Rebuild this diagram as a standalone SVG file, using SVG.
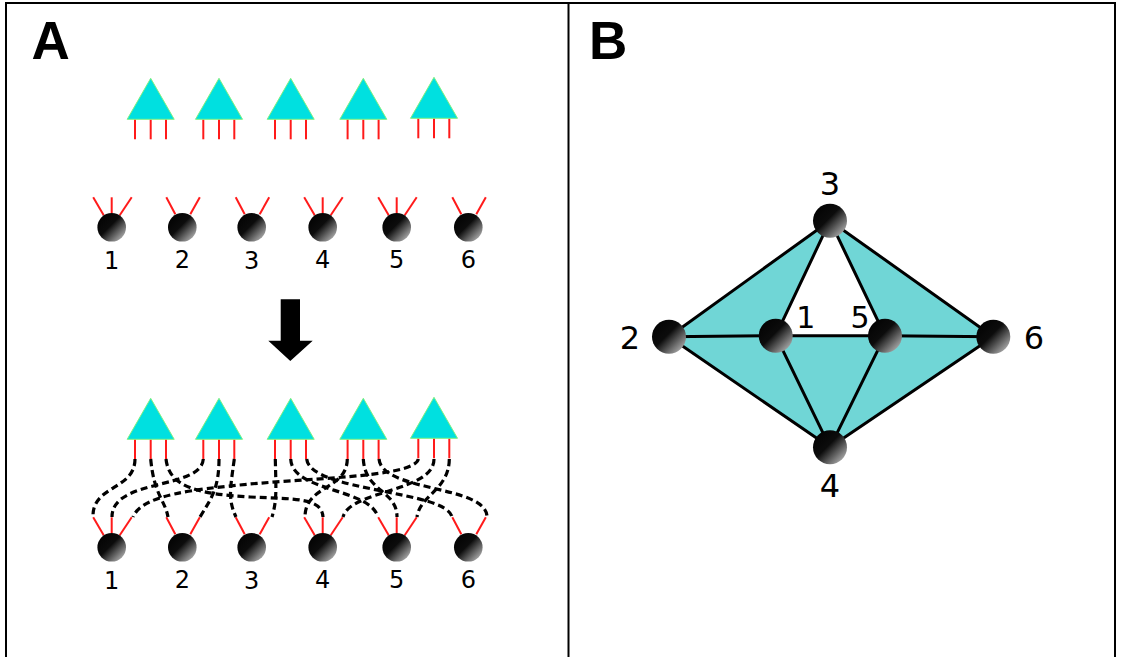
<svg xmlns="http://www.w3.org/2000/svg" xmlns:xlink="http://www.w3.org/1999/xlink" width="1121" height="657" viewBox="0 0 1121 657">
  <style>
    .frame { fill: none; stroke: #000; stroke-width: 2; }
    .letter { font-family: "Liberation Sans", Arial, sans-serif; font-weight: bold; font-size: 53px; fill: #000; }
    .lbl { font-family: "DejaVu Sans", sans-serif; font-size: 24px; fill: #000; text-anchor: middle; }
    .lblB { font-family: "DejaVu Sans", sans-serif; font-size: 32px; fill: #000; text-anchor: middle; }
    .lblS { font-family: "DejaVu Sans", sans-serif; font-size: 30px; fill: #000; text-anchor: middle; }
    .leg { stroke: #ff1a1a; stroke-width: 2; fill: none; }
    .tri { fill: #00e0e0; stroke: #80f080; stroke-width: 1; }
    .dash { fill: none; stroke: #000; stroke-width: 3.2; stroke-dasharray: 7 4; }
    .edge { stroke: #000; stroke-width: 3; fill: none; stroke-linecap: round; }
  </style>
  <defs>
    <linearGradient id="ball" x1="0" y1="0" x2="1" y2="1">
      <stop offset="0" stop-color="#000"/>
      <stop offset="0.45" stop-color="#0c0c0c"/>
      <stop offset="1" stop-color="#d4d4d4"/>
    </linearGradient>
    <!-- triangle with three legs, origin at apex -->
    <g id="tri">
      <line class="leg" x1="-15.7" y1="41" x2="-15.7" y2="61"/>
      <line class="leg" x1="0" y1="41" x2="0" y2="61"/>
      <line class="leg" x1="15.3" y1="41" x2="15.3" y2="61"/>
      <polygon class="tri" points="-23.5,41 0,0 23.5,41"/>
    </g>
    <!-- ball with three legs, origin at centre -->
    <g id="ball3">
      <line class="leg" x1="-18.5" y1="-30" x2="-8" y2="-12"/>
      <line class="leg" x1="0" y1="-30" x2="0" y2="-14"/>
      <line class="leg" x1="20" y1="-30" x2="8" y2="-12"/>
      <circle r="14.3" fill="url(#ball)"/>
    </g>
    <!-- ball with two legs -->
    <g id="ball2">
      <line class="leg" x1="-16" y1="-30" x2="-7" y2="-13"/>
      <line class="leg" x1="17.5" y1="-30" x2="8" y2="-13"/>
      <circle r="14.3" fill="url(#ball)"/>
    </g>
  </defs>

  <!-- frames -->
  <rect class="frame" x="6" y="3" width="1109" height="700"/>
  <line class="frame" x1="568.5" y1="3" x2="568.5" y2="657"/>
  <text class="letter" x="31.5" y="59">A</text>
  <text class="letter" x="589" y="59">B</text>

  <!-- panel A, top row -->
  <g id="top-units">
    <use xlink:href="#tri" x="150.7" y="78.3"/>
    <use xlink:href="#tri" x="219" y="78.3"/>
    <use xlink:href="#tri" x="290.7" y="78.3"/>
    <use xlink:href="#tri" x="363.3" y="78.3"/>
    <use xlink:href="#tri" x="434" y="77.3"/>
  </g>
  <g id="top-node-1"><use xlink:href="#ball3" x="111.7" y="227.3"/><text class="lbl" x="111.7" y="269">1</text></g>
  <g id="top-node-2"><use xlink:href="#ball2" x="182.3" y="227.3"/><text class="lbl" x="182.3" y="268">2</text></g>
  <g id="top-node-3"><use xlink:href="#ball2" x="251.7" y="227.3"/><text class="lbl" x="251.7" y="269">3</text></g>
  <g id="top-node-4"><use xlink:href="#ball3" x="322.7" y="227.3"/><text class="lbl" x="322.7" y="268">4</text></g>
  <g id="top-node-5"><use xlink:href="#ball3" x="396.7" y="227.3"/><text class="lbl" x="396.7" y="268">5</text></g>
  <g id="top-node-6"><use xlink:href="#ball2" x="468.3" y="227.3"/><text class="lbl" x="468.3" y="268">6</text></g>

  <!-- arrow -->
  <polygon id="arrow" points="280.7,299.3 300,299.3 300,340.7 312.7,340.7 290.3,361 268.3,340.7 280.7,340.7" fill="#000"/>

  <!-- panel A, bottom row -->
  <g id="bottom-units">
    <use xlink:href="#tri" x="150.7" y="398.3"/>
    <use xlink:href="#tri" x="219" y="398.3"/>
    <use xlink:href="#tri" x="290.7" y="398.3"/>
    <use xlink:href="#tri" x="363.3" y="398.3"/>
    <use xlink:href="#tri" x="434" y="397.3"/>
  </g>
  <g id="bottom-node-1"><use xlink:href="#ball3" x="111.7" y="547.3"/><text class="lbl" x="111.7" y="589">1</text></g>
  <g id="bottom-node-2"><use xlink:href="#ball2" x="182.3" y="547.3"/><text class="lbl" x="182.3" y="588">2</text></g>
  <g id="bottom-node-3"><use xlink:href="#ball2" x="251.7" y="547.3"/><text class="lbl" x="251.7" y="589">3</text></g>
  <g id="bottom-node-4"><use xlink:href="#ball3" x="322.7" y="547.3"/><text class="lbl" x="322.7" y="588">4</text></g>
  <g id="bottom-node-5"><use xlink:href="#ball3" x="396.7" y="547.3"/><text class="lbl" x="396.7" y="588">5</text></g>
  <g id="bottom-node-6"><use xlink:href="#ball2" x="468.3" y="547.3"/><text class="lbl" x="468.3" y="588">6</text></g>

  <!-- dashed pairings between unit legs and ball legs -->
  <g id="connectors">
    <path class="dash" d="M135,459 C135,490 92,485 93,517"/>
    <path class="dash" d="M150.7,459 C154,495 165,500 168,517"/>
    <path class="dash" d="M166,459 C169,488 200,494 250,497 C292,499 322,497 323,517"/>
    <path class="dash" d="M203.3,459 C201,490 112,478 112,517"/>
    <path class="dash" d="M219,459 C219,490 210,500 200,517"/>
    <path class="dash" d="M234.3,459 C230,490 228,500 236,517"/>
    <path class="dash" d="M275.3,459 C276,490 277,500 272,517"/>
    <path class="dash" d="M290.7,459 C292,492 370,488 378,517"/>
    <path class="dash" d="M306.7,459 C310,492 446,490 452,517"/>
    <path class="dash" d="M347.3,459 C347,490 305,485 305,517"/>
    <path class="dash" d="M363.3,459 C365,492 397,490 397,517"/>
    <path class="dash" d="M379,459 C382,492 487,485 487,517"/>
    <path class="dash" d="M418.3,459 C415,478 300,478 230,486 C170,492 140,500 133,517"/>
    <path class="dash" d="M434,459 C434,492 350,490 343,517"/>
    <path class="dash" d="M449.3,459 C449,490 420,495 417,517"/>
  </g>

  <!-- panel B: complex -->
  <g id="complex-fill">
    <polygon points="830,220.7 669,336.7 830,447.3 993.3,336.7" fill="#70d6d6"/>
    <polygon points="830,220.7 775.7,335.7 885,335.7" fill="#fff"/>
  </g>
  <g id="complex-edges">
    <line class="edge" x1="830" y1="220.7" x2="669" y2="336.7"/>
    <line class="edge" x1="830" y1="220.7" x2="775.7" y2="335.7"/>
    <line class="edge" x1="830" y1="220.7" x2="885" y2="335.7"/>
    <line class="edge" x1="830" y1="220.7" x2="993.3" y2="336.7"/>
    <line class="edge" x1="669" y1="336.7" x2="775.7" y2="335.7"/>
    <line class="edge" x1="775.7" y1="335.7" x2="885" y2="335.7"/>
    <line class="edge" x1="885" y1="335.7" x2="993.3" y2="336.7"/>
    <line class="edge" x1="669" y1="336.7" x2="830" y2="447.3"/>
    <line class="edge" x1="775.7" y1="335.7" x2="830" y2="447.3"/>
    <line class="edge" x1="885" y1="335.7" x2="830" y2="447.3"/>
    <line class="edge" x1="993.3" y1="336.7" x2="830" y2="447.3"/>
  </g>
  <g id="vertex-3"><circle cx="830" cy="220.7" r="17" fill="url(#ball)"/><text class="lblB" x="830" y="195">3</text></g>
  <g id="vertex-2"><circle cx="669" cy="336.7" r="17" fill="url(#ball)"/><text class="lblB" x="630" y="349">2</text></g>
  <g id="vertex-1"><circle cx="775.7" cy="335.7" r="17" fill="url(#ball)"/><text class="lblS" x="805.7" y="328">1</text></g>
  <g id="vertex-5"><circle cx="885" cy="335.7" r="17" fill="url(#ball)"/><text class="lblS" x="860" y="328">5</text></g>
  <g id="vertex-6"><circle cx="993.3" cy="336.7" r="17" fill="url(#ball)"/><text class="lblB" x="1034" y="349">6</text></g>
  <g id="vertex-4"><circle cx="830" cy="447.3" r="17" fill="url(#ball)"/><text class="lblB" x="830" y="497">4</text></g>
</svg>
